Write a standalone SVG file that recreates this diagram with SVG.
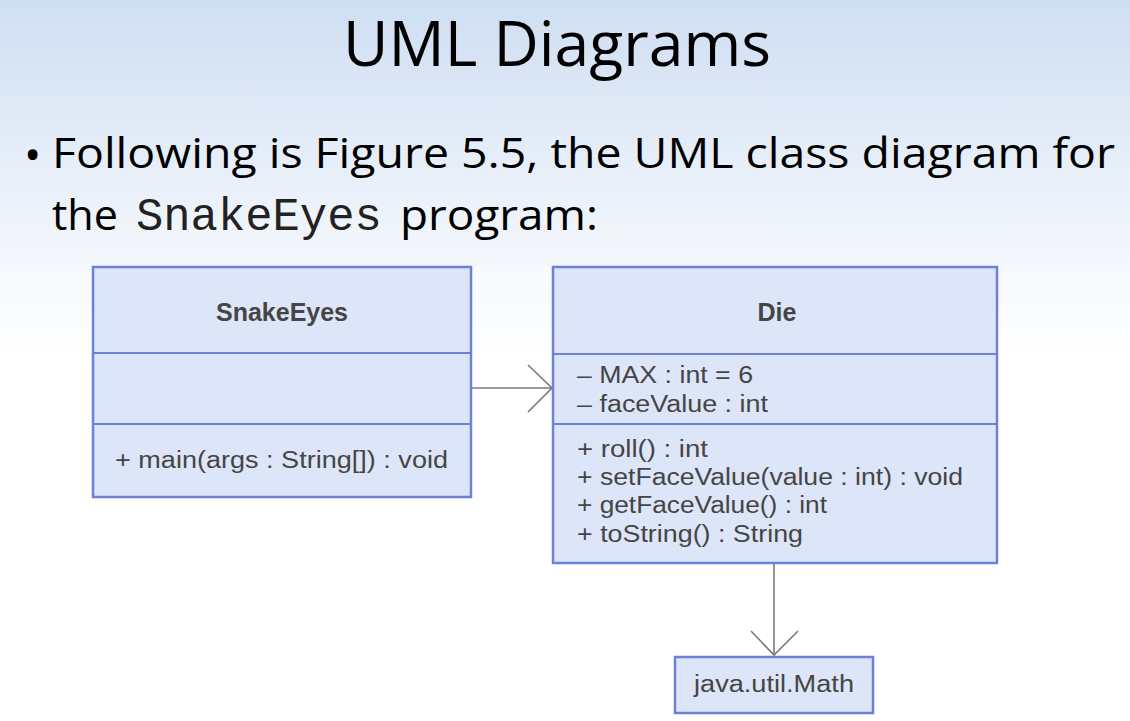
<svg xmlns="http://www.w3.org/2000/svg" width="1130" height="721" viewBox="0 0 1130 721">
<defs>
<linearGradient id="bg" x1="0" y1="0" x2="0" y2="1">
<stop offset="0" stop-color="#cfdef2"/>
<stop offset="0.38" stop-color="#f6f9fd"/>
<stop offset="0.5" stop-color="#ffffff"/>
</linearGradient>
</defs>
<style>
.slide{font-family:"Open Sans","Noto Sans",sans-serif;fill:#000}
.mono{font-family:"Liberation Mono","Courier New",monospace;fill:#222}
.box{fill:#dde5f9;stroke:#6f80d8;stroke-width:2.5}
.div{stroke:#6f80d8;stroke-width:2}
.uml{font-family:"Liberation Sans",Arial,sans-serif;font-size:23px;fill:#454545}
.b{font-weight:bold;font-size:25px}
.conn{fill:none;stroke:#7a7a7a;stroke-width:1.6}
</style>
<rect x="0" y="0" width="1130" height="721" fill="url(#bg)"/>
<text class="slide" x="557" y="66" font-size="63" text-anchor="middle" textLength="428" lengthAdjust="spacingAndGlyphs">UML Diagrams</text>
<text class="slide" x="24" y="171" font-size="46">•</text>
<text class="slide" x="52" y="168" font-size="42" textLength="1063" lengthAdjust="spacingAndGlyphs">Following is Figure 5.5, the UML class diagram for</text>
<text class="slide" x="52" y="230" font-size="42" textLength="66" lengthAdjust="spacingAndGlyphs">the</text>
<text class="mono" x="136" y="230" font-size="45.5">SnakeEyes</text>
<text class="slide" x="400" y="230" font-size="42" textLength="198" lengthAdjust="spacingAndGlyphs">program:</text>

<g id="connectors">
<line class="conn" x1="471" y1="388" x2="552" y2="388"/>
<polyline class="conn" points="528,365 552,388 528,412"/>
<line class="conn" x1="774" y1="564" x2="774" y2="655"/>
<polyline class="conn" points="751,631 774,655 798,631"/>
</g>

<g id="SnakeEyes">
<rect class="box" x="93" y="267" width="378" height="230"/>
<line class="div" x1="93" y1="353" x2="471" y2="353"/>
<line class="div" x1="93" y1="424" x2="471" y2="424"/>
<text class="uml b" x="282" y="321" text-anchor="middle" textLength="132" lengthAdjust="spacingAndGlyphs">SnakeEyes</text>
<text class="uml" x="115" y="468" textLength="333" lengthAdjust="spacingAndGlyphs">+ main(args : String[]) : void</text>
</g>

<g id="Die">
<rect class="box" x="553" y="267" width="444" height="296"/>
<line class="div" x1="553" y1="354" x2="997" y2="354"/>
<line class="div" x1="553" y1="424" x2="997" y2="424"/>
<text class="uml b" x="777" y="321" text-anchor="middle">Die</text>
<text class="uml" x="577" y="383" textLength="176" lengthAdjust="spacingAndGlyphs">– MAX : int = 6</text>
<text class="uml" x="577" y="412" textLength="191" lengthAdjust="spacingAndGlyphs">– faceValue : int</text>
<text class="uml" x="577" y="457" textLength="131" lengthAdjust="spacingAndGlyphs">+ roll() : int</text>
<text class="uml" x="577" y="485" textLength="386" lengthAdjust="spacingAndGlyphs">+ setFaceValue(value : int) : void</text>
<text class="uml" x="577" y="513" textLength="250" lengthAdjust="spacingAndGlyphs">+ getFaceValue() : int</text>
<text class="uml" x="577" y="542" textLength="226" lengthAdjust="spacingAndGlyphs">+ toString() : String</text>
</g>

<g id="Math">
<rect class="box" x="675" y="657" width="198" height="56"/>
<text class="uml" x="774" y="692" text-anchor="middle" textLength="160" lengthAdjust="spacingAndGlyphs">java.util.Math</text>
</g>
</svg>
